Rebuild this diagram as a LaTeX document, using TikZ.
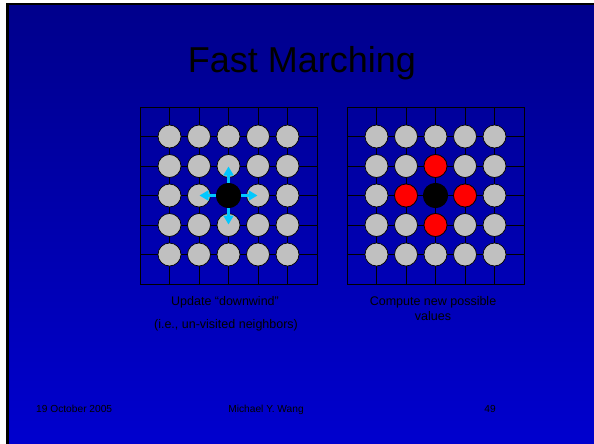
\documentclass[tikz,border=0pt]{standalone}
\usepackage{fontspec}
\setmainfont{Liberation Sans}
\usetikzlibrary{arrows.meta}
\definecolor{slidetop}{RGB}{0,0,140}
\definecolor{slidebot}{RGB}{0,0,206}
\definecolor{dotgray}{RGB}{192,192,192}
\definecolor{arrcyan}{RGB}{0,200,255}
\tikzset{
  gridline/.style={draw=black, line width=0.9pt},
  dot/.style={circle, draw=black, line width=0.7pt, fill=dotgray, minimum size=23pt, inner sep=0pt},
  dotred/.style={dot, fill=red},
  dotblack/.style={dot, fill=black, minimum size=24.5pt},
  nbarrow/.style={draw=arrcyan, line width=3pt, -{Triangle[width=10pt,length=9pt]}, shorten >=0.5pt},
  txt/.style={anchor=base, inner sep=0pt, text=black}
}
\begin{document}
\begin{tikzpicture}[x=1pt,y=-1pt]
\useasboundingbox (0,0) rectangle (594,444);
\fill[white] (0,0) rectangle (594,444);
\fill[black] (6,3) rectangle (594,444);
\shade[top color=slidetop, bottom color=slidebot] (9,6) rectangle (594,444);
% title
\node[txt, font=\fontsize{36}{40}\selectfont] (title) at (302,72) {Fast Marching};
% left grid
\draw[gridline] (140,107) rectangle (317,284);
\foreach \k in {1,...,5} {
  \draw[gridline] ({140+29.5*\k},107) -- ({140+29.5*\k},284);
  \draw[gridline] (140,{107+29.5*\k}) -- (317,{107+29.5*\k});
}
\foreach \i in {1,...,5} \foreach \j in {1,...,5} {
  \ifnum\i=3 \ifnum\j=3 \else
    \node[dot] (a\i\j) at ({140+29.5*\i},{107+29.5*\j}) {};
  \fi \else
    \node[dot] (a\i\j) at ({140+29.5*\i},{107+29.5*\j}) {};
  \fi
}
\node[dotblack] (a33) at (228.5,195.5) {};
\draw[nbarrow] (a33) -- (a32.center);
\draw[nbarrow] (a33) -- (a34.center);
\draw[nbarrow] (a33) -- (a23.center);
\draw[nbarrow] (a33) -- (a43.center);
% right grid
\draw[gridline] (347,107) rectangle (524,284);
\foreach \k in {1,...,5} {
  \draw[gridline] ({347+29.5*\k},107) -- ({347+29.5*\k},284);
  \draw[gridline] (347,{107+29.5*\k}) -- (524,{107+29.5*\k});
}
\foreach \i in {1,...,5} \foreach \j in {1,...,5} {
  \node[dot] (b\i\j) at ({347+29.5*\i},{107+29.5*\j}) {};
}
\node[dotblack] (b33) at (435.5,195.5) {};
\node[dotred] (b32) at (435.5,166) {};
\node[dotred] (b34) at (435.5,225) {};
\node[dotred] (b23) at (406,195.5) {};
\node[dotred] (b43) at (465,195.5) {};
% captions
\node[txt, font=\fontsize{12.5}{15}\selectfont] (capa1) at (225,305) {Update “downwind”};
\node[txt, font=\fontsize{12.5}{15}\selectfont] (capa2) at (226,328) {(i.e., un-visited neighbors)};
\node[txt, font=\fontsize{12.5}{15}\selectfont] (capb1) at (433,305) {Compute new possible};
\node[txt, font=\fontsize{12.5}{15}\selectfont] (capb2) at (433,320.5) {values};
% footer
\node[txt, font=\fontsize{10.2}{12}\selectfont, anchor=base west] (date) at (36,412) {19 October 2005};
\node[txt, font=\fontsize{10.2}{12}\selectfont] (author) at (266,412) {Michael Y. Wang};
\node[txt, font=\fontsize{10.2}{12}\selectfont, anchor=base east] (page) at (496,412) {49};
\end{tikzpicture}
\end{document}
